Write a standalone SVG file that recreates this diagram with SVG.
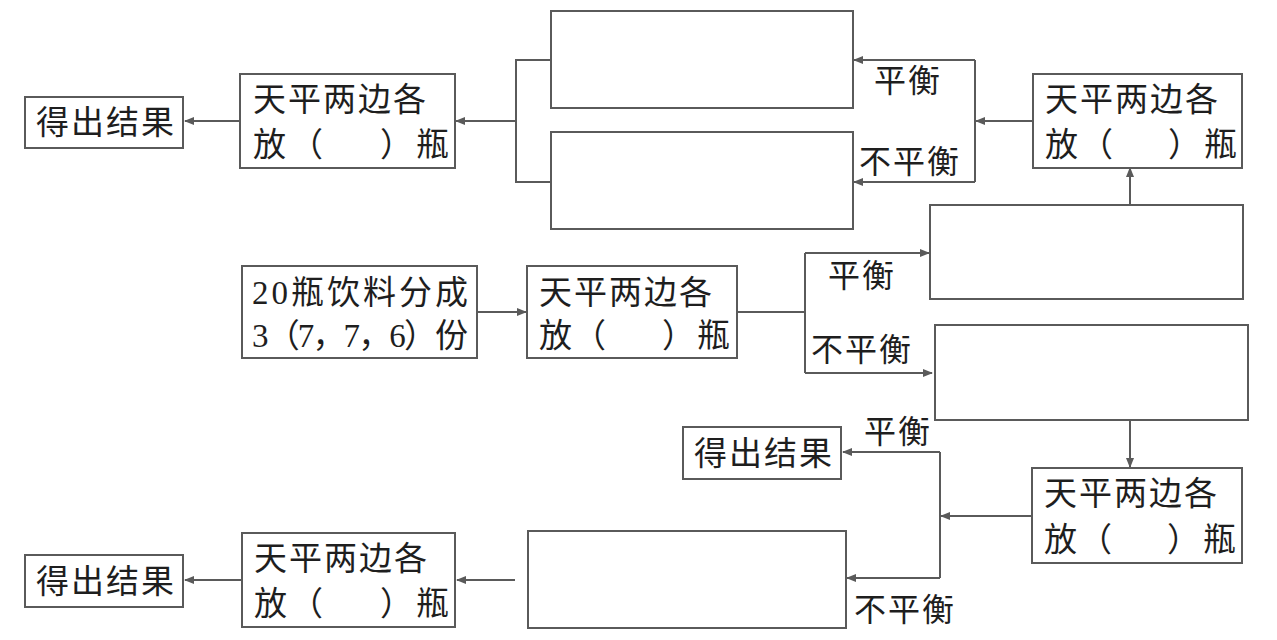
<svg xmlns="http://www.w3.org/2000/svg" width="1277" height="640" viewBox="0 0 1277 640">
<style>
.box{fill:#fff;stroke:#5a5a5a;stroke-width:2}
.ln{fill:none;stroke:#5a5a5a;stroke-width:2}
.ar{fill:none;stroke:#5a5a5a;stroke-width:2;marker-end:url(#ah)}
.t{font-family:"Liberation Serif","Noto Sans CJK SC",serif;font-size:33px;fill:#1e1e1e}
.lb{font-family:"Noto Sans CJK SC",sans-serif;font-size:32px;fill:#1e1e1e;letter-spacing:2px}
</style>
<defs>
<marker id="ah" viewBox="0 0 10 8" refX="9" refY="4" markerWidth="10" markerHeight="8" markerUnits="userSpaceOnUse" orient="auto">
<path d="M0,0 L10,4 L0,8 z" fill="#5a5a5a"/>
</marker>
</defs>
<rect width="1277" height="640" fill="#fff"/>

<g id="connectors">
<line class="ar" x1="240" y1="121" x2="185" y2="121"/>
<path class="ln" d="M550,60 H516 V182 H550"/>
<line class="ar" x1="516" y1="121" x2="456" y2="121"/>
<line class="ar" x1="1033" y1="121" x2="976" y2="121"/>
<line class="ln" x1="975" y1="60" x2="975" y2="182"/>
<line class="ar" x1="975" y1="60" x2="854" y2="60"/>
<line class="ar" x1="975" y1="182" x2="854" y2="182"/>
<line class="ar" x1="1130" y1="205" x2="1130" y2="168"/>
<line class="ar" x1="477" y1="312" x2="526" y2="312"/>
<path class="ln" d="M737,312 H805"/>
<line class="ln" x1="805" y1="253" x2="805" y2="373"/>
<line class="ar" x1="805" y1="253" x2="929" y2="253"/>
<line class="ar" x1="805" y1="373" x2="932" y2="373"/>
<line class="ar" x1="1130" y1="420" x2="1130" y2="467"/>
<line class="ar" x1="1032" y1="516" x2="941" y2="516"/>
<line class="ln" x1="940" y1="452" x2="940" y2="578"/>
<line class="ar" x1="940" y1="452" x2="843" y2="452"/>
<line class="ar" x1="940" y1="578" x2="847" y2="578"/>
<line class="ar" x1="515" y1="580" x2="457" y2="580"/>
<line class="ar" x1="242" y1="580" x2="185" y2="580"/>
</g>

<g id="labels">
<text class="lb" x="874" y="92">平衡</text>
<text class="lb" x="859" y="173">不平衡</text>
<text class="lb" x="828" y="287">平衡</text>
<text class="lb" x="811" y="361">不平衡</text>
<text class="lb" x="864" y="443">平衡</text>
<text class="lb" x="854" y="621">不平衡</text>
</g>

<g id="result1">
<rect class="box" x="25" y="97" width="158" height="51"/>
<text class="t" x="36" y="134" letter-spacing="2">得出结果</text>
</g>
<g id="weigh3">
<rect class="box" x="240" y="74" width="215" height="94"/>
<text class="t" x="253" y="111" letter-spacing="2">天平两边各</text>
<text class="t" y="156"><tspan x="253">放</tspan><tspan x="290">（</tspan><tspan x="380">）</tspan><tspan x="416">瓶</tspan></text>
</g>
<g id="blank1">
<rect class="box" x="551" y="11" width="302" height="97"/>
</g>
<g id="blank2">
<rect class="box" x="551" y="132" width="302" height="97"/>
</g>
<g id="weigh2">
<rect class="box" x="1033" y="74" width="209" height="94"/>
<text class="t" x="1045" y="111" letter-spacing="2">天平两边各</text>
<text class="t" y="156"><tspan x="1045">放</tspan><tspan x="1080">（</tspan><tspan x="1168">）</tspan><tspan x="1204">瓶</tspan></text>
</g>
<g id="blank3">
<rect class="box" x="930" y="205" width="313" height="94"/>
</g>
<g id="start">
<rect class="box" x="242" y="266" width="235" height="92"/>
<text class="t" x="252" y="304" textLength="216" lengthAdjust="spacing">20瓶饮料分成</text>
<text class="t" x="252" y="347" textLength="216" lengthAdjust="spacing">3（7，7，6）份</text>
</g>
<g id="weigh1">
<rect class="box" x="527" y="266" width="210" height="92"/>
<text class="t" x="539" y="304" letter-spacing="2">天平两边各</text>
<text class="t" y="347"><tspan x="539">放</tspan><tspan x="573">（</tspan><tspan x="662">）</tspan><tspan x="697">瓶</tspan></text>
</g>
<g id="blank4">
<rect class="box" x="935" y="325" width="313" height="95"/>
</g>
<g id="result2">
<rect class="box" x="683" y="427" width="158" height="52"/>
<text class="t" x="694" y="465" letter-spacing="2">得出结果</text>
</g>
<g id="weigh4">
<rect class="box" x="1032" y="468" width="210" height="95"/>
<text class="t" x="1044" y="505" letter-spacing="2">天平两边各</text>
<text class="t" y="551"><tspan x="1044">放</tspan><tspan x="1079">（</tspan><tspan x="1167">）</tspan><tspan x="1203">瓶</tspan></text>
</g>
<g id="blank5">
<rect class="box" x="528" y="531" width="318" height="97"/>
</g>
<g id="weigh5">
<rect class="box" x="242" y="533" width="213" height="94"/>
<text class="t" x="254" y="570" letter-spacing="2">天平两边各</text>
<text class="t" y="615"><tspan x="254">放</tspan><tspan x="290">（</tspan><tspan x="380">）</tspan><tspan x="416">瓶</tspan></text>
</g>
<g id="result3">
<rect class="box" x="25" y="555" width="158" height="52"/>
<text class="t" x="36" y="593" letter-spacing="2">得出结果</text>
</g>
</svg>
